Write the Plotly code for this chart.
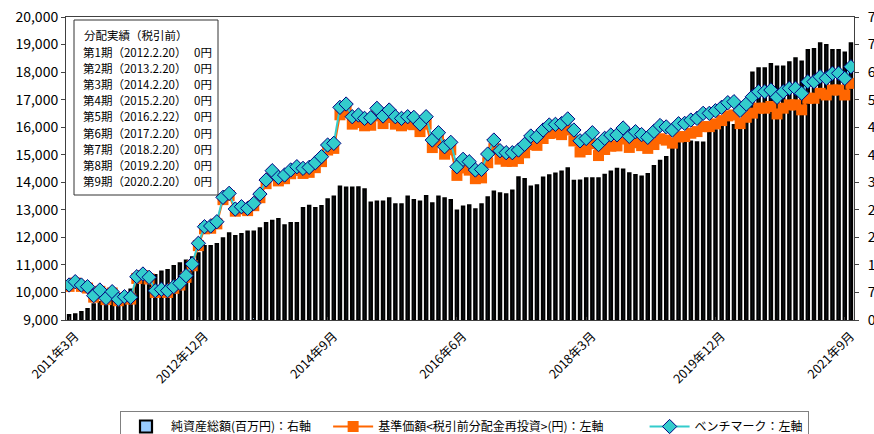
import plotly.graph_objects as go

# ---- categories (monthly, 2011年3月 .. 2021年10月) ----
months = []
yy, mm = 2011, 3
for _ in range(128):
    months.append(f"{yy}年{mm}月")
    mm += 1
    if mm > 12:
        mm = 1
        yy += 1

tick_labels = months[::21]

# 純資産総額 (百万円) - right axis
net_assets = [
    127, 145, 200, 280, 395, 457, 490, 520, 560, 640,
    775, 965, 1016, 1100, 1143, 1228, 1270, 1372, 1440, 1507,
    1593, 1694, 1880, 1880, 1931, 2075, 2202, 2134, 2185, 2245,
    2245, 2329, 2465, 2520, 2562, 2405, 2465, 2465, 2846, 2900,
    2846, 2897, 3066, 3134, 3388, 3363, 3363, 3371, 3320, 2981,
    3007, 3007, 3092, 2939, 2939, 3134, 3049, 3007, 3151, 2964,
    3134, 3092, 3049, 2778, 2880, 2914, 2812, 2939, 3117, 3261,
    3219, 3193, 3286, 3625, 3583, 3388, 3422, 3617, 3676, 3719,
    3769, 3854, 3536, 3540, 3600, 3600, 3600, 3690, 3769, 3840,
    3820, 3727, 3684, 3642, 3705, 3913, 4044, 4140, 4375, 4510,
    4531, 4531, 4515, 4510, 4750, 4820, 4912, 5035, 4950, 5000,
    5150, 6285, 6396, 6396, 6505, 6437, 6437, 6548, 6650, 6565,
    6861, 6886, 7031, 6988, 6861, 6861, 6793, 7031,
]

# 基準価額 (円) - left axis
nav = [
    10220, 10340, 10220, 10160, 9830, 10040, 9740, 9980, 9700, 9800,
    9760, 10510, 10610, 10490, 10000, 10050, 10000, 10150, 10270, 10550,
    10970, 11700, 12310, 12330, 12490, 13370, 13520, 12950, 13030, 12970,
    13150, 13440, 13950, 14290, 14050, 14130, 14310, 14430, 14320, 14360,
    14530, 14750, 15170, 15230, 16450, 16570, 16110, 16170, 16050, 16070,
    16410, 16130, 16350, 16110, 16050, 16110, 16090, 15840, 16110, 15260,
    15530, 15020, 15180, 14250, 14520, 14440, 14130, 14160, 14710, 15220,
    14840, 14760, 14760, 14860, 15070, 15370, 15340, 15590, 15770, 15790,
    15730, 15900, 15500, 15100, 15190, 15400, 14970, 15190, 15310, 15320,
    15570, 15265, 15435, 15330, 15230, 15370, 15580, 15530, 15420, 15645,
    15660, 15780, 15840, 16020, 16020, 16120, 16240, 16410, 16445, 16130,
    16360, 16510, 16690, 16690, 16750, 16480, 16690, 16810, 16810, 16630,
    17050, 17050, 17230, 17170, 17350, 17350, 17170, 17590,
]

# ベンチマーク - left axis
bench = [
    10270, 10391, 10270, 10210, 9883, 10089, 9788, 10028, 9751, 9846,
    9824, 10573, 10670, 10549, 10064, 10113, 10064, 10210, 10331, 10609,
    11033, 11784, 12387, 12412, 12568, 13453, 13598, 13029, 13113, 13053,
    13235, 13573, 14082, 14420, 14178, 14263, 14445, 14565, 14505, 14541,
    14710, 14928, 15352, 15413, 16720, 16840, 16380, 16441, 16320, 16344,
    16684, 16405, 16623, 16380, 16320, 16380, 16356, 16114, 16380, 15533,
    15799, 15291, 15450, 14565, 14833, 14747, 14445, 14469, 15025, 15533,
    15146, 15074, 15074, 15170, 15377, 15679, 15654, 15897, 16078, 16103,
    16130, 16300, 15897, 15505, 15590, 15799, 15370, 15595, 15715, 15720,
    15970, 15665, 15835, 15730, 15630, 15850, 16060, 16010, 15897, 16125,
    16138, 16259, 16320, 16502, 16502, 16598, 16721, 16889, 16925, 16610,
    16841, 17107, 17289, 17289, 17349, 17083, 17289, 17410, 17410, 17229,
    17651, 17651, 17832, 17772, 17955, 17955, 17772, 18195,
]

dist_title = "分配実績（税引前）"
dist_periods = ["第1期", "第2期", "第3期", "第4期", "第5期", "第6期", "第7期", "第8期", "第9期"]
dist_dates = ["2012.2.20", "2013.2.20", "2014.2.20", "2015.2.20", "2016.2.22",
              "2017.2.20", "2018.2.20", "2019.2.20", "2020.2.20"]
dist_amounts = ["0円"] * 9

FONT = "Noto Sans CJK JP, sans-serif"

fig = go.Figure()
fig.add_trace(go.Bar(
    x=months, y=net_assets, name="純資産総額(百万円)：右軸\u3000",
    width=0.37,
    marker=dict(color="#99CCFF", line=dict(color="black", width=2.2)),
    yaxis="y",
))
fig.add_trace(go.Scatter(
    x=months, y=nav, name="基準価額<税引前分配金再投資>(円)：左軸\u3000\u3000\u3000",
    mode="lines+markers",
    line=dict(color="#FF6600", width=2),
    marker=dict(symbol="square", size=11, color="#FF6600"),
    yaxis="y2",
))
fig.add_trace(go.Scatter(
    x=months, y=bench, name="ベンチマーク：左軸",
    mode="lines+markers",
    line=dict(color="#33CCCC", width=2),
    marker=dict(symbol="diamond", size=11, color="#33CCCC",
                line=dict(color="#000080", width=1)),
    yaxis="y2",
))

# distribution box
L, R, T, B = 66, 854, 17, 320
W, H = R - L, B - T
def px(x):
    return (x - L) / W
def py(y):
    return (B - y) / H

shapes = [dict(type="rect", xref="paper", yref="paper",
               x0=px(74), x1=px(218), y0=py(195), y1=py(20),
               line=dict(color="#333333", width=1), fillcolor="white", layer="above")]
annotations = [dict(text=dist_title, xref="paper", yref="paper", x=px(82), y=py(35),
                    xanchor="left", yanchor="middle", showarrow=False,
                    font=dict(size=11.5, color="black", family=FONT))]
for k in range(9):
    yk = 52 + 16.1 * k
    annotations.append(dict(text=f"{dist_periods[k]}（{dist_dates[k]}）", xref="paper", yref="paper",
                            x=px(81), y=py(yk), xanchor="left", yanchor="middle", showarrow=False,
                            font=dict(size=11.5, color="black", family=FONT)))
    annotations.append(dict(text=dist_amounts[k], xref="paper", yref="paper",
                            x=px(214), y=py(yk), xanchor="right", yanchor="middle", showarrow=False,
                            font=dict(size=11.5, color="black", family=FONT)))

fig.update_layout(
    width=874, height=434,
    margin=dict(l=L, r=874 - R, t=T, b=434 - B, autoexpand=False),
    paper_bgcolor="white", plot_bgcolor="white",
    font=dict(family=FONT, color="black"),
    showlegend=True,
    legend=dict(orientation="h", x=px(120), xanchor="left", y=py(411), yanchor="top",
                itemwidth=40,
                bordercolor="#808080", borderwidth=1, font=dict(size=12, family=FONT),
                bgcolor="white"),
    xaxis=dict(type="category", categoryorder="array", categoryarray=months,
               range=[-0.5, 127.5], tickmode="array", tickvals=tick_labels, ticktext=tick_labels,
               tickangle=-45, tickfont=dict(size=12.5, family=FONT),
               ticklabelshift=6, ticklabelstandoff=3,
               ticks="inside", ticklen=3, showline=True, linecolor="#404040", linewidth=1,
               mirror=True, showgrid=False, zeroline=False, automargin=False),
    yaxis=dict(side="right", range=[0, 7700], tick0=0, dtick=700, tickformat=",d",
               ticks="outside", ticklen=4, ticklabelstandoff=6, showline=True, linecolor="#404040",
               showgrid=False, zeroline=False, tickfont=dict(size=14, family=FONT),
               automargin=False),
    yaxis2=dict(side="left", overlaying="y", range=[9000, 20000], tick0=9000, dtick=1000,
                tickformat=",d", ticks="outside", ticklen=4, showline=True, linecolor="#404040",
                showgrid=False, zeroline=False, tickfont=dict(size=14, family=FONT),
                automargin=False),
    shapes=shapes, annotations=annotations,
)

fig.write_html("out.html", config={"displayModeBar": False},
               post_script="document.body.style.margin='0';document.body.style.overflow='hidden';")
